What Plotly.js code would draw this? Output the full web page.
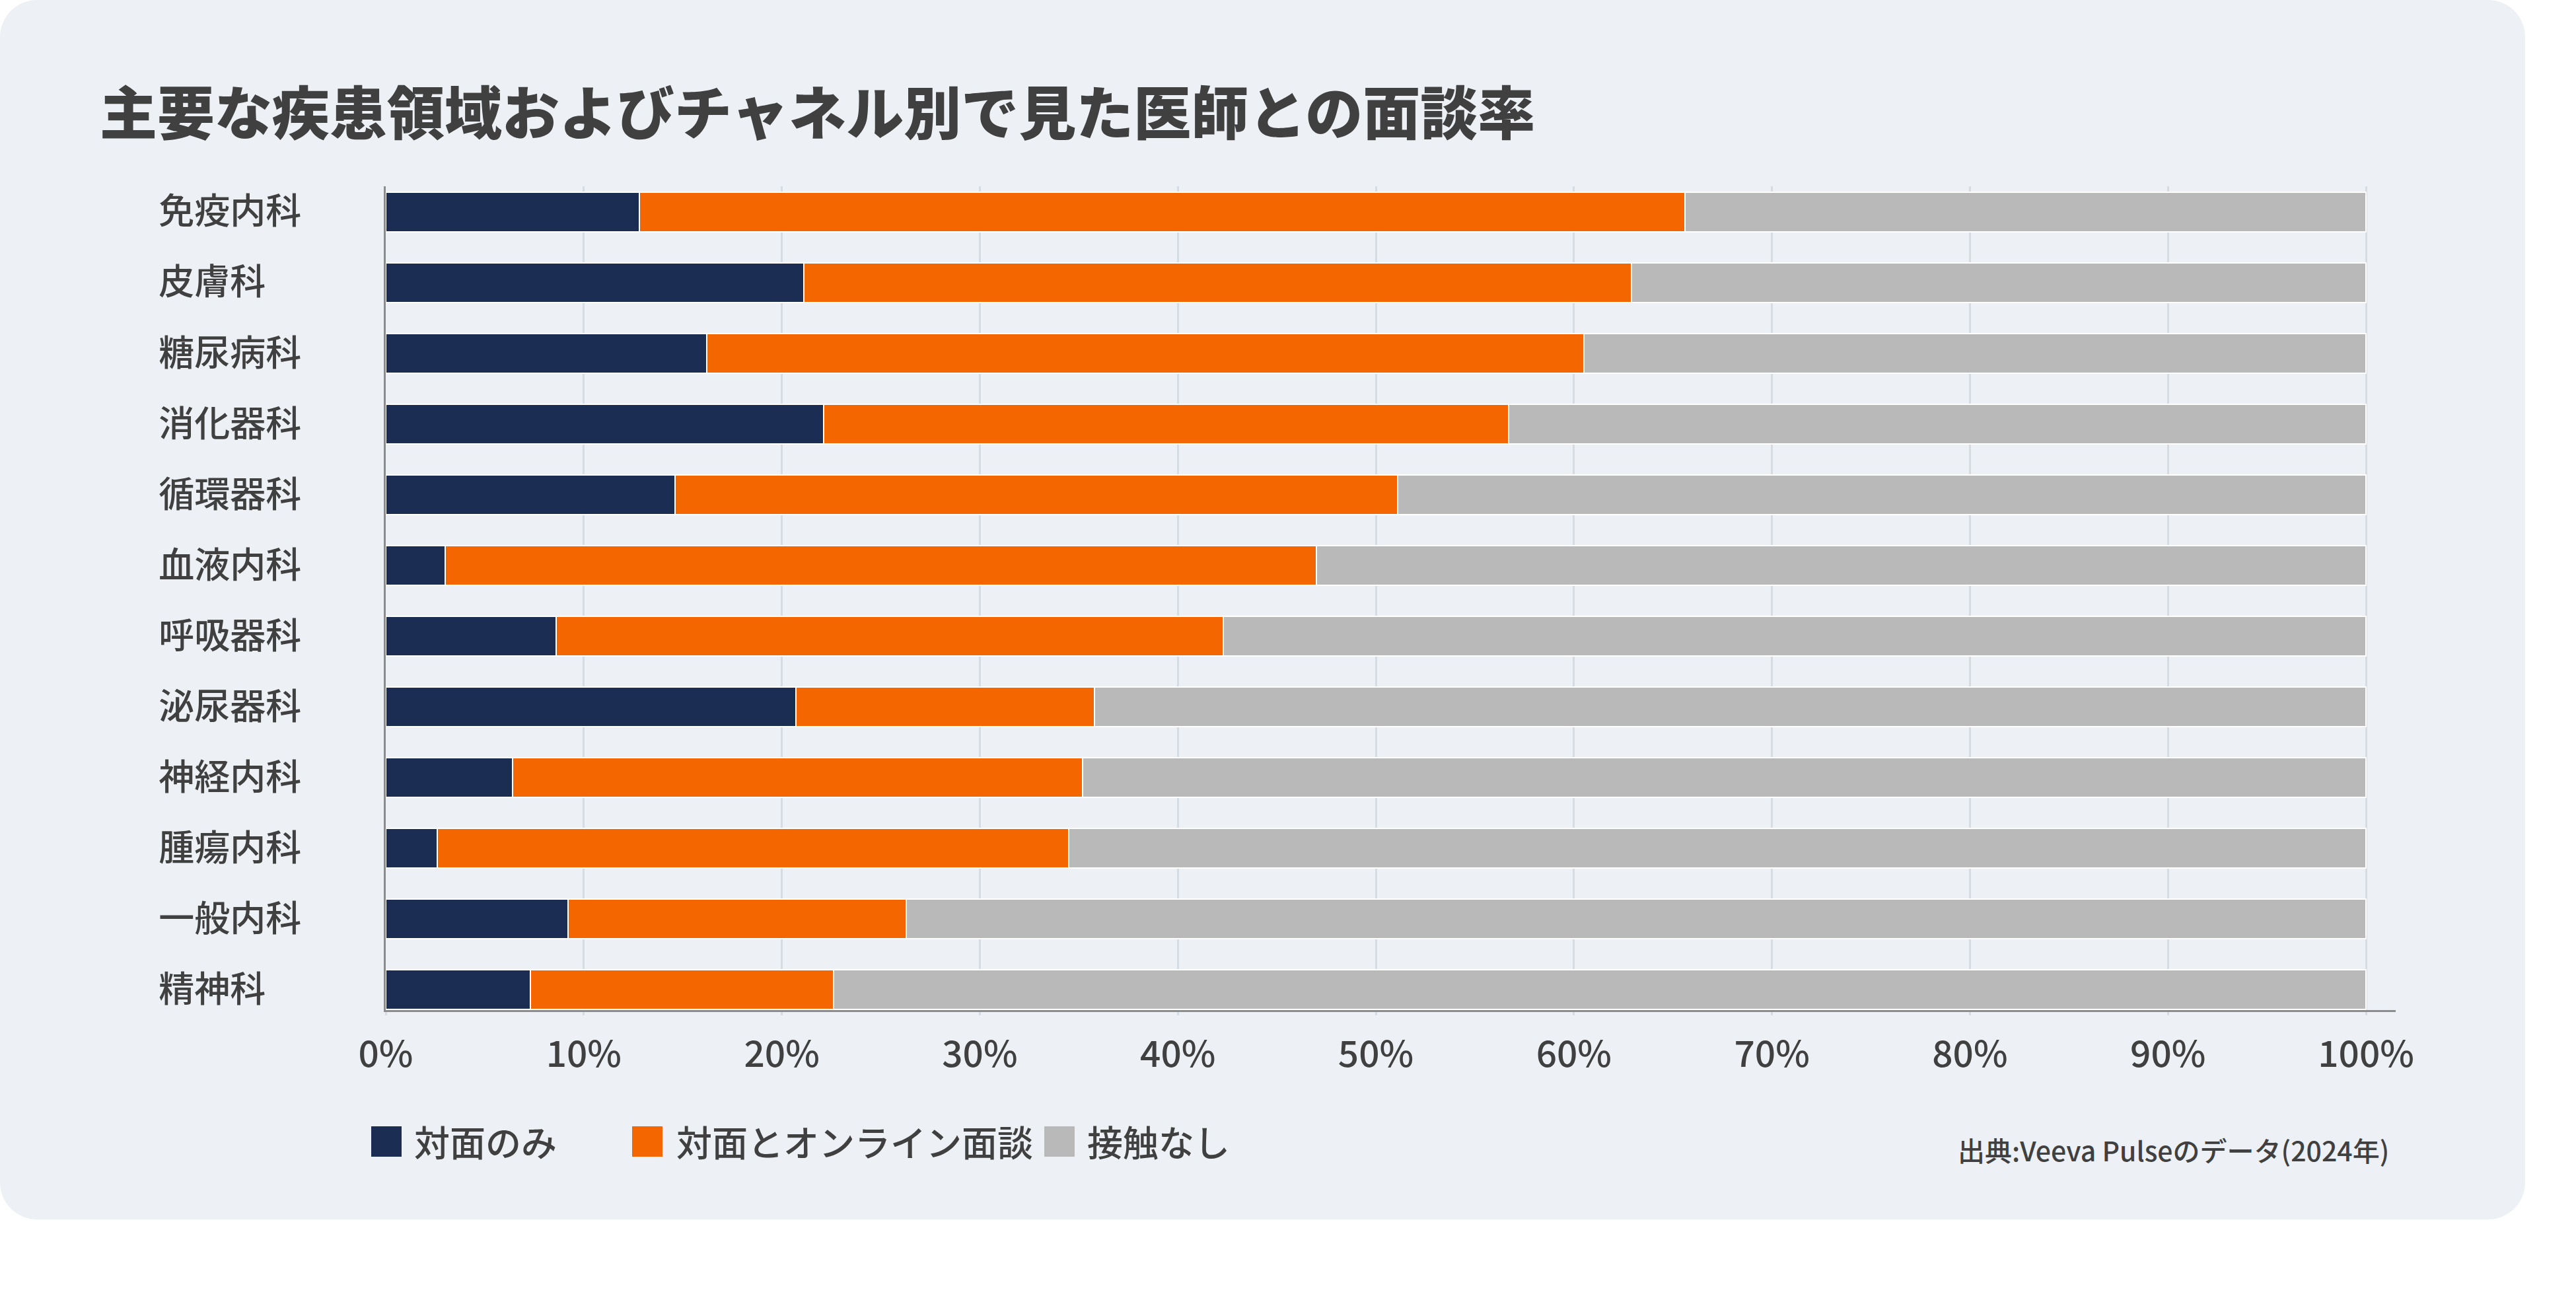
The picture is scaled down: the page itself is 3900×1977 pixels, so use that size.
<!DOCTYPE html>
<html>
<head>
<meta charset="utf-8">
<script src="https://cdn.plot.ly/plotly-3.0.1.min.js"></script>
<style>
  html, body { margin: 0; padding: 0; background: #ffffff; }
  #panel { position: absolute; left: 0; top: 0; width: 3823px; height: 1846px; background: #EDF0F5; border-radius: 56px; }
  #chart { position: absolute; left: 0; top: 0; width: 3900px; height: 1977px; }
</style>
</head>
<body>
<div id="panel"></div>
<div id="chart"></div>
<script>
// ---- data ----
const categories = ['免疫内科', '皮膚科', '糖尿病科', '消化器科', '循環器科', '血液内科', '呼吸器科', '泌尿器科', '神経内科', '腫瘍内科', '一般内科', '精神科'];
const inPersonOnly      = [12.8, 21.1, 16.2, 22.1, 14.6, 3.0, 8.6, 20.7, 6.4, 2.6, 9.2, 7.3];
const inPersonAndOnline = [52.8, 41.8, 44.3, 34.6, 36.5, 44.0, 33.7, 15.1, 28.8, 31.9, 17.1, 15.3];
const noContact         = [34.4, 37.1, 39.5, 43.3, 48.9, 53.0, 57.7, 64.2, 64.8, 65.5, 73.7, 77.4];
const seriesNames = ['対面のみ', '対面とオンライン面談', '接触なし'];
const seriesColors = ['#1C2D54', '#F46600', '#B9B9B9'];
const xTickVals = [0, 10, 20, 30, 40, 50, 60, 70, 80, 90, 100];
const xTickLabels = ['0%', '10%', '20%', '30%', '40%', '50%', '60%', '70%', '80%', '90%', '100%'];
const titleText = '主要な疾患領域およびチャネル別で見た医師との面談率';
const sourceText = '出典:Veeva Pulseのデータ(2024年)';

// ---- layout geometry ----
const W = 3900, H = 1977;
const M = { l: 584, r: 273, t: 282, b: 448 };
const plotW = W - M.l - M.r, plotH = H - M.t - M.b;
const px2x = px => (px - M.l) / plotW;
const py2y = py => (H - M.b - py) / plotH;
const FONT = '"Noto Sans CJK JP", "Noto Sans", sans-serif';
const TEXT = '#404040';

const seriesValues = [inPersonOnly, inPersonAndOnline, noContact];
const traces = seriesValues.map((vals, i) => ({
  type: 'bar',
  orientation: 'h',
  name: seriesNames[i],
  y: categories,
  x: vals,
  marker: { color: seriesColors[i], line: { color: '#ffffff', width: 2 } },
  showlegend: false,
  hoverinfo: 'skip'
}));

// legend drawn as swatches + labels
const legendSwatchLeft = [562, 957, 1581];
const legendTextLeft = [625, 1022, 1644];
const legendTop = 1705, legendSize = 46, legendMid = 1727;
const shapes = seriesNames.map((n, i) => ({
  type: 'rect', xref: 'paper', yref: 'paper',
  x0: px2x(legendSwatchLeft[i]), x1: px2x(legendSwatchLeft[i] + legendSize),
  y0: py2y(legendTop + legendSize), y1: py2y(legendTop),
  fillcolor: seriesColors[i], line: { width: 0 }
}));
const annotations = seriesNames.map((n, i) => ({
  text: n, xref: 'paper', yref: 'paper',
  x: px2x(legendTextLeft[i]), y: py2y(legendMid),
  xanchor: 'left', yanchor: 'middle', showarrow: false,
  font: { family: FONT, size: 54, color: TEXT, weight: 500 }
}));
annotations.push({
  text: sourceText, xref: 'paper', yref: 'paper',
  x: px2x(3619), y: py2y(1740),
  xanchor: 'right', yanchor: 'middle', showarrow: false,
  font: { family: FONT, size: 41, color: TEXT, weight: 500 }
});

const yTickText = categories.map(c => c.padEnd(4, '\u3000'));

const layout = {
  width: W, height: H,
  margin: M,
  paper_bgcolor: 'rgba(0,0,0,0)',
  plot_bgcolor: 'rgba(0,0,0,0)',
  barmode: 'stack',
  bargap: 0.44,
  font: { family: FONT, color: TEXT },
  title: {
    text: titleText,
    font: { family: FONT, size: 87, color: TEXT, weight: 900 },
    x: 151 / W, xref: 'container', xanchor: 'left',
    y: 1 - 174 / H, yref: 'container', yanchor: 'middle'
  },
  xaxis: {
    range: [0, 101.5],
    tickvals: xTickVals, ticktext: xTickLabels,
    showgrid: true, gridcolor: '#D6DCE4', gridwidth: 3,
    zeroline: false,
    showline: true, linecolor: '#8C8C8C', linewidth: 3,
    ticks: 'outside', ticklen: 5, tickwidth: 3, tickcolor: '#D6DCE4',
    ticklabelstandoff: 12,
    tickfont: { family: FONT, size: 55, color: TEXT, weight: 500 },
    fixedrange: true
  },
  yaxis: {
    type: 'category',
    categoryorder: 'array', categoryarray: categories,
    range: [11.29, -0.36],
    tickvals: categories, ticktext: yTickText,
    showgrid: false, zeroline: false,
    showline: true, linecolor: '#8C8C8C', linewidth: 3,
    ticks: '',
    ticklabelstandoff: 114,
    tickfont: { family: FONT, size: 54, color: TEXT, weight: 500 },
    fixedrange: true
  },
  shapes: shapes,
  annotations: annotations,
  showlegend: false
};

Plotly.newPlot('chart', traces, layout, { staticPlot: true, displayModeBar: false });
</script>
</body>
</html>
